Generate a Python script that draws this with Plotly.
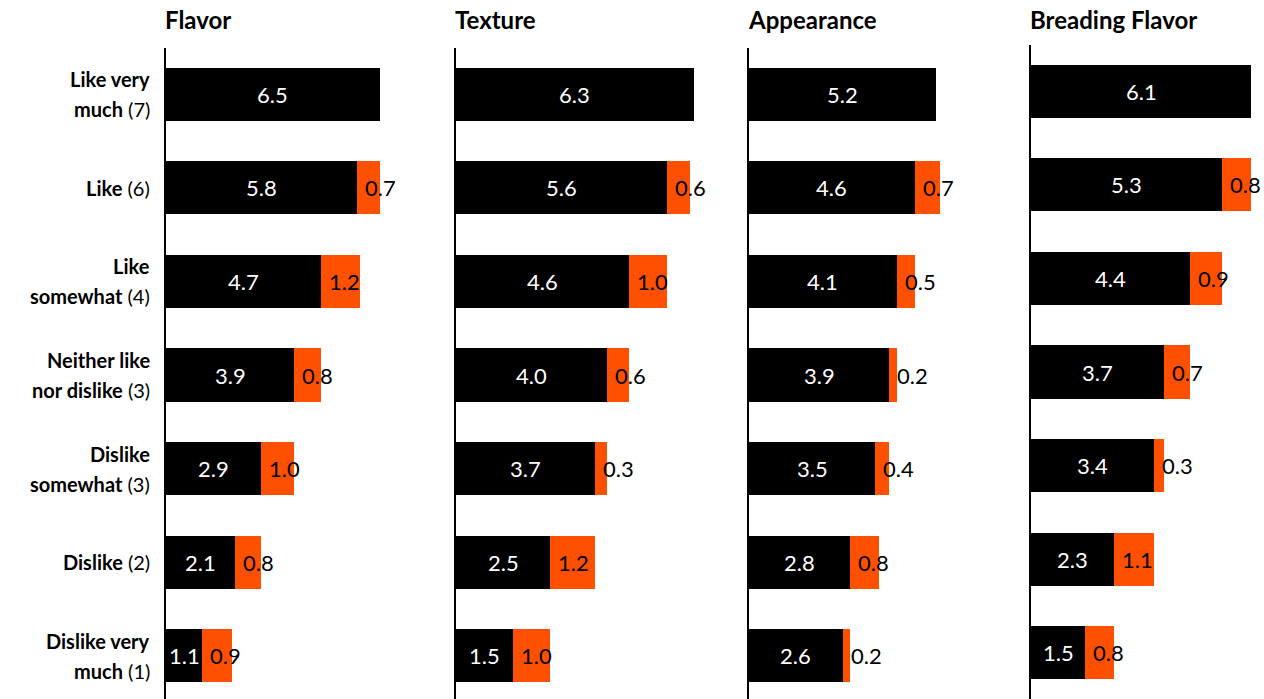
import plotly.graph_objects as go

# ---- data ----
row_labels_bold = [["Like very", "much"], ["Like"], ["Like", "somewhat"],
                   ["Neither like", "nor dislike"], ["Dislike", "somewhat"],
                   ["Dislike"], ["Dislike very", "much"]]
row_scores = ["(7)", "(6)", "(4)", "(3)", "(3)", "(2)", "(1)"]

panel_titles = ["Flavor", "Texture", "Appearance", "Breading Flavor"]

flavor_base = [6.5, 5.8, 4.7, 3.9, 2.9, 2.1, 1.1]
flavor_gap = [None, 0.7, 1.2, 0.8, 1.0, 0.8, 0.9]
texture_base = [6.3, 5.6, 4.6, 4.0, 3.7, 2.5, 1.5]
texture_gap = [None, 0.6, 1.0, 0.6, 0.3, 1.2, 1.0]
appearance_base = [5.2, 4.6, 4.1, 3.9, 3.5, 2.8, 2.6]
appearance_gap = [None, 0.7, 0.5, 0.2, 0.4, 0.8, 0.2]
breading_base = [6.1, 5.3, 4.4, 3.7, 3.4, 2.3, 1.5]
breading_gap = [None, 0.8, 0.9, 0.7, 0.3, 1.1, 0.8]

bases = [flavor_base, texture_base, appearance_base, breading_base]
gaps = [flavor_gap, texture_gap, appearance_gap, breading_gap]

# ---- layout geometry (pixels) ----
W, H = 1264, 699
FONT = "Lato"
BLACK = "#000000"
ORANGE = "#FF5000"

panels = [
    dict(x0=166, x1=436, xmax=270 / 32.9, ytop=48, yr=[6.465, -0.497]),
    dict(x0=456, x1=726, xmax=270 / 37.7, ytop=48, yr=[6.465, -0.497]),
    dict(x0=749, x1=1010, xmax=261 / 36.0, ytop=48, yr=[6.465, -0.497]),
    dict(x0=1031, x1=1264, xmax=233 / 36.07, ytop=45, yr=[6.497, -0.497]),
]

fig = go.Figure()
annotations = []
rows = list(range(len(row_scores)))

for i, (p, base, gap, title) in enumerate(zip(panels, bases, gaps, panel_titles)):
    suffix = "" if i == 0 else str(i + 1)
    xa, ya = "x" + suffix, "y" + suffix
    gap_vals = [g if g is not None else 0 for g in gap]
    fig.add_trace(go.Bar(x=base, y=rows, orientation="h", marker_color=BLACK,
                         marker_line_width=0, width=0.567, xaxis=xa, yaxis=ya,
                         showlegend=False, hoverinfo="skip"))
    fig.add_trace(go.Bar(x=gap_vals, y=rows, orientation="h", marker_color=ORANGE,
                         marker_line_width=0, width=0.567, xaxis=xa, yaxis=ya,
                         showlegend=False, hoverinfo="skip"))
    fig.update_layout(**{
        ("xaxis" + suffix): dict(domain=[p["x0"] / W, p["x1"] / W], range=[0, p["xmax"]],
                                 visible=False, anchor=ya, fixedrange=True),
        ("yaxis" + suffix): dict(domain=[0, 1 - p["ytop"] / H], range=p["yr"],
                                 anchor=xa, showline=True, linecolor="#000000", linewidth=1.5,
                                 showticklabels=False, ticks="", showgrid=False,
                                 zeroline=False, fixedrange=True),
    })
    annotations.append(dict(text="<b>" + title + "</b>", xref=xa + " domain", x=0,
                            xanchor="left", yref="paper", y=1 - 20 / H, yanchor="middle",
                            showarrow=False, font=dict(family=FONT, size=24, color="#000"),
                            xshift=-3))
    for r, (b, g) in enumerate(zip(base, gap)):
        annotations.append(dict(text=f"{b:.1f}", x=b / 2, y=r, xref=xa, yref=ya,
                                showarrow=False, font=dict(family=FONT, size=22, color="#FFFFFF")))
        if g is not None:
            annotations.append(dict(text=f"{g:.1f}", x=b, y=r, xref=xa, yref=ya,
                                    xanchor="left", xshift=6, showarrow=False,
                                    font=dict(family=FONT, size=22, color="#000000")))

for r, (lines, score) in enumerate(zip(row_labels_bold, row_scores)):
    n = len(lines)
    for k, line in enumerate(lines):
        txt = "<b>" + line + "</b>"
        if k == n - 1:
            txt += " " + score
        shift = (n - 1) * 15 - k * 30
        annotations.append(dict(text=txt, xref="paper", x=152 / W, xanchor="right",
                                yref="y", y=r, yshift=shift, showarrow=False,
                                font=dict(family=FONT, size=20, color="#000000")))

fig.update_layout(
    width=W, height=H, barmode="stack", bargap=0,
    margin=dict(l=0, r=0, t=0, b=0),
    paper_bgcolor="white", plot_bgcolor="white",
    annotations=annotations, font=dict(family=FONT),
)

fig.write_html("out.html", config={"displayModeBar": False},
               post_script="document.body.style.margin='0px';document.body.style.overflow='hidden';")
